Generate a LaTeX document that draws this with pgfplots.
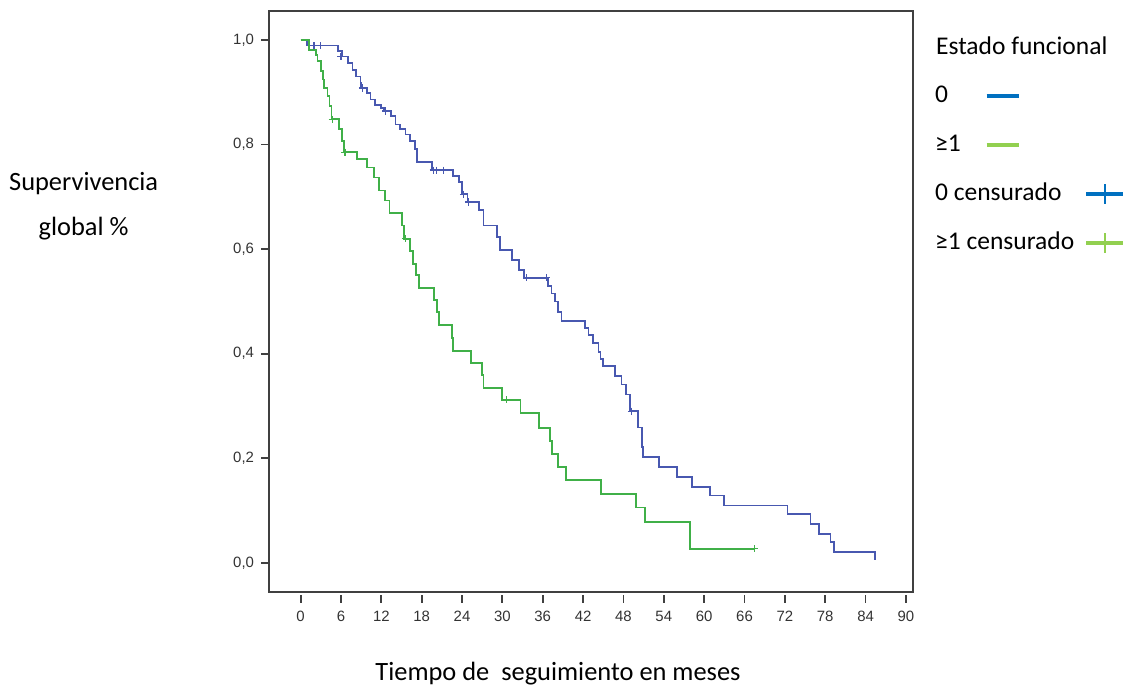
\documentclass[border=0pt]{standalone}
\usepackage{fontspec}
\setmainfont{Carlito}
\newfontfamily\tickfont{Liberation Sans}
\usepackage{pgfplots}
\pgfplotsset{compat=1.18}
\definecolor{kmblue}{RGB}{72,88,176}
\definecolor{kmgreen}{RGB}{64,176,72}
\definecolor{legblue}{RGB}{0,112,192}
\definecolor{leggreen}{RGB}{146,208,80}

\begin{document}
\begin{tikzpicture}
\begin{axis}[
  name=ax,
  scale only axis,
  width=323pt, height=291.5pt,
  xmin=-4.7, xmax=91.0,
  ymin=-0.0552, ymax=1.0552,
  xtick={0,6,...,90},
  ytick={0,0.2,0.4,0.6,0.8,1},
  tick pos=left,
  tick align=outside,
  major tick length=4pt,
  axis line style={black!75, line width=0.9pt},
  tick style={black!75, line width=0.9pt},
  xtick style={yshift=-1.5pt},
  xticklabel style={yshift=-2pt, text depth=0pt},
  yticklabel style={/pgf/number format/.cd, fixed, fixed zerofill, precision=1, use comma},
  ticklabel style={font=\tickfont\fontsize{7.5}{9}\selectfont, text=black!80},
  /pgf/number format/assume math mode=true,
  xlabel={Tiempo de\ \ seguimiento en meses},
  ylabel={Supervivencia\\global \%},
  label style={font=\fontsize{13.25}{22.5}\selectfont},
  xlabel style={at={(axis description cs:0.449,-0.141)}, anchor=center},
  ylabel style={at={(axis description cs:-0.288,0.664)}, anchor=center, rotate=-90, align=center},
  legend plot pos=right,
  legend cell align=left,
  legend style={at={(rel axis cs:1.025,0.966)}, anchor=north west, draw=none, fill=none,
    font=\fontsize{12.8}{16}\selectfont, row sep=12pt, column sep=5pt,
    nodes={inner sep=0pt, text height=9.5pt, text depth=3pt}},
]
\addlegendimage{empty legend}
\addlegendentry{\makebox[0pt][l]{Estado funcional}}
\addlegendimage{legend image code/.code={\path[draw=none, fill=none] (0pt,-5pt) rectangle (18.5pt,5pt);
  \draw[overlay, legblue, line width=2pt] (-50pt,0pt) -- (-33.5pt,0pt);}}
\addlegendentry{0}
\addlegendimage{legend image code/.code={\path[draw=none, fill=none] (0pt,-5pt) rectangle (18.5pt,5pt);
  \draw[overlay, leggreen, line width=2pt] (-50pt,0pt) -- (-33.5pt,0pt);}}
\addlegendentry{≥1}
\addlegendimage{legend image code/.code={\path[draw=none, fill=none] (0pt,-5pt) rectangle (18.5pt,5pt);
  \draw[legblue, line width=2pt] (0pt,0pt) -- (18.5pt,0pt);
  \draw[legblue, line width=1pt] (9.25pt,-5pt) -- (9.25pt,5pt);}}
\addlegendentry{0 censurado}
\addlegendimage{legend image code/.code={\path[draw=none, fill=none] (0pt,-5pt) rectangle (18.5pt,5pt);
  \draw[leggreen, line width=2pt] (0pt,0pt) -- (18.5pt,0pt);
  \draw[leggreen, line width=1pt] (9.25pt,-5pt) -- (9.25pt,5pt);}}
\addlegendentry{≥1 censurado}

% estado funcional 0
\addplot[const plot, kmblue, line width=0.9pt, forget plot] coordinates {
 (0,1.000) (1.0,0.989) (5.5,0.978) (6.2,0.968) (7.0,0.956) (7.7,0.943)
 (8.2,0.930) (8.9,0.918) (9.0,0.908) (9.9,0.899) (10.4,0.886) (11.1,0.876)
 (12.0,0.870) (12.4,0.864) (13.4,0.854) (14.1,0.838) (14.8,0.829) (15.6,0.819)
 (16.3,0.807) (17.0,0.791) (17.3,0.766) (19.5,0.751) (22.7,0.740) (23.5,0.728)
 (24.0,0.705) (24.8,0.690) (26.5,0.674) (27.2,0.645) (29.2,0.623) (29.6,0.598)
 (31.4,0.579) (32.5,0.560) (33.2,0.545) (36.8,0.530) (37.3,0.515) (37.8,0.500)
 (38.3,0.480) (38.8,0.462) (42.3,0.449) (42.8,0.436) (43.5,0.420) (44.3,0.404)
 (44.6,0.390) (45.0,0.376) (46.7,0.357) (47.7,0.341) (48.4,0.322) (49.0,0.290)
 (50.2,0.259) (50.7,0.221) (50.9,0.202) (53.3,0.183) (56.0,0.164) (58.2,0.145)
 (60.9,0.129) (63.0,0.110) (72.4,0.094) (75.8,0.075) (77.1,0.056) (78.8,0.040)
 (79.3,0.021) (85.4,0.006)
};
\addplot[only marks, mark=+, mark size=1.8pt, kmblue, mark options={line width=0.6pt}, forget plot] coordinates {
 (2.0,0.989) (3.0,0.989) (6.0,0.968) (9.2,0.908) (12.6,0.864) (19.7,0.751)
 (20.2,0.751) (21.2,0.751) (24.2,0.705) (25.0,0.690) (33.6,0.545) (36.5,0.545)
 (49.2,0.290)
};

% estado funcional >=1
\addplot[const plot, kmgreen, line width=0.9pt, forget plot] coordinates {
 (0,1.000) (1.3,0.981) (2.3,0.971) (2.5,0.959) (3.0,0.940) (3.3,0.924)
 (3.5,0.908) (4.0,0.892) (4.3,0.873) (4.6,0.848) (5.7,0.829) (6.2,0.807)
 (6.4,0.785) (8.4,0.772) (9.9,0.756) (10.9,0.737) (11.7,0.712) (12.5,0.693)
 (13.2,0.669) (15.1,0.645) (15.4,0.620) (16.3,0.597) (16.7,0.572) (17.2,0.550)
 (17.6,0.525) (19.8,0.502) (20.3,0.480) (20.6,0.455) (22.5,0.430) (22.7,0.405)
 (25.3,0.382) (27.0,0.360) (27.2,0.335) (29.9,0.312) (32.7,0.286) (35.4,0.258)
 (37.1,0.233) (37.4,0.208) (38.3,0.183) (39.5,0.158) (44.7,0.132) (49.9,0.106)
 (51.2,0.078) (57.9,0.027) (67.5,0.027)
};
\addplot[only marks, mark=+, mark size=1.8pt, kmgreen, mark options={line width=0.6pt}, forget plot] coordinates {
 (4.7,0.848) (6.6,0.785) (15.6,0.620) (30.6,0.312) (67.5,0.027)
};
\end{axis}
\path ([shift={(-135pt,-48.5pt)}]ax.south west) rectangle ([shift={(430.5pt,297pt)}]ax.south west);
\end{tikzpicture}
\end{document}
